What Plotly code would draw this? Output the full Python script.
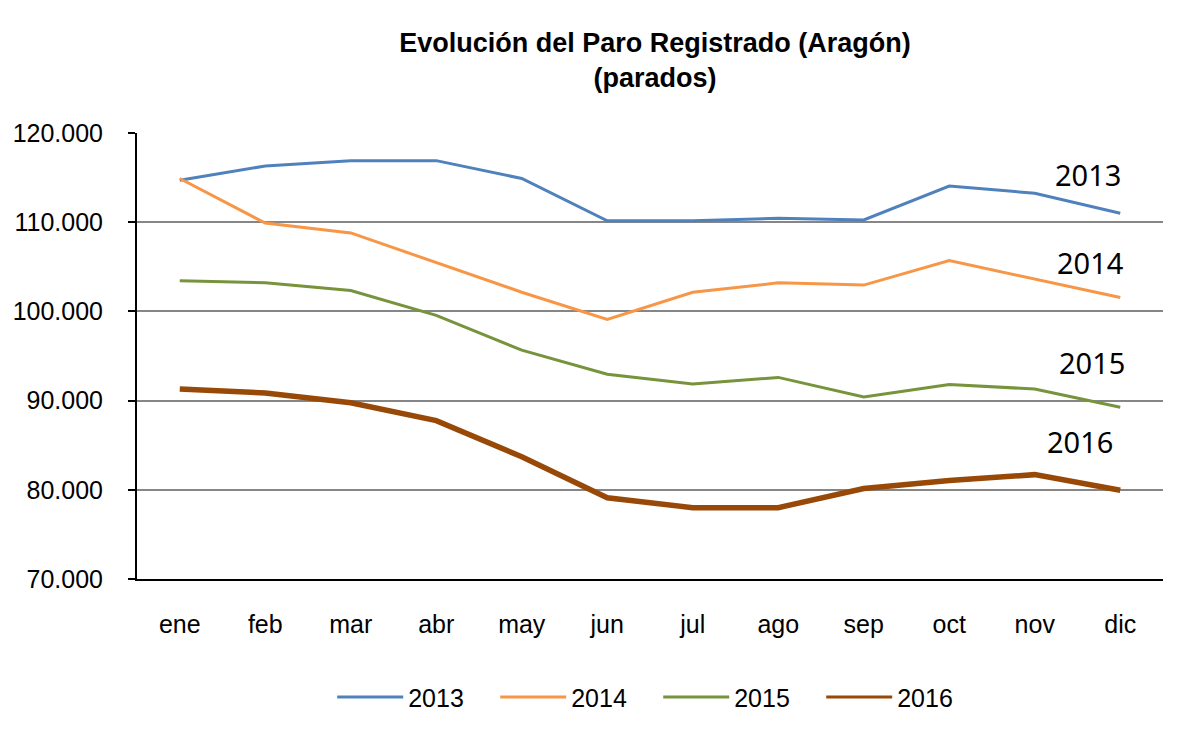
import plotly.graph_objects as go

months = ["ene", "feb", "mar", "abr", "may", "jun", "jul", "ago", "sep", "oct", "nov", "dic"]
years = ["2013", "2014", "2015", "2016"]
v2013 = [114700, 116300, 116900, 116900, 114900, 110150, 110150, 110450, 110250, 114050, 113250, 111000]
v2014 = [114900, 109900, 108800, 105450, 102150, 99100, 102150, 103200, 102950, 105700, 103650, 101550]
v2015 = [103450, 103200, 102350, 99550, 95650, 92950, 91850, 92600, 90400, 91800, 91300, 89250]
v2016 = [91300, 90850, 89750, 87750, 83700, 79100, 78000, 78000, 80150, 81050, 81700, 79950]
series = [v2013, v2014, v2015, v2016]
colors = ["#4F81BD", "#F79646", "#77933C", "#984807"]
widths = [3, 3, 3, 5.5]
label_y = [115350, 105450, 94250, 85400]
label_xshift = [-32, -30, -28, -40]

fig = go.Figure()
for name, vals, c, w in zip(years, series, colors, widths):
    fig.add_trace(go.Scatter(x=months, y=vals, mode="lines", name=name,
                             line=dict(color=c, width=w), showlegend=False))
# legend entries (all drawn with thin sample lines as in the reference)
for name, c in zip(years, colors):
    fig.add_trace(go.Scatter(x=[None], y=[None], mode="lines", name=name,
                             line=dict(color=c, width=3), showlegend=True))

for name, y, xs in zip(years, label_y, label_xshift):
    fig.add_annotation(x="dic", y=y, text=name, showarrow=False, xshift=xs,
                       font=dict(family="Noto Sans", size=29, color="#000000"))

fig.update_layout(
    width=1204, height=742,
    margin=dict(l=137, r=41, t=133, b=163),
    paper_bgcolor="white", plot_bgcolor="white",
    separators=",.",
    title=dict(text="<b>Evolución del Paro Registrado (Aragón)<br>(parados)</b>",
               x=0.544, xanchor="center", y=0.93, yanchor="top",
               font=dict(family="Liberation Sans", size=27, color="#000000")),
    legend=dict(orientation="h", x=0.508, xanchor="center", y=-0.265, yanchor="middle",
                font=dict(family="Liberation Sans", size=25, color="#000000"),
                traceorder="normal", itemwidth=66,
                entrywidth=82, entrywidthmode="pixels"),
    showlegend=True,
)
fig.update_xaxes(type="category", range=[-0.5, 11.5], showgrid=False, showline=True,
                 linecolor="#000000", linewidth=2, ticks="", ticklabelstandoff=22,
                 tickfont=dict(family="Liberation Sans", size=25, color="#000000"))
fig.update_yaxes(range=[70000, 120000], dtick=10000, tickformat=",d",
                 showgrid=True, gridcolor="#868686", gridwidth=2,
                 showline=True, linecolor="#000000", linewidth=2,
                 ticks="outside", ticklen=7, tickwidth=2, tickcolor="#000000",
                 ticklabelstandoff=20, zeroline=False,
                 tickfont=dict(family="Liberation Sans", size=25, color="#000000"))

fig.write_html("out.html")
